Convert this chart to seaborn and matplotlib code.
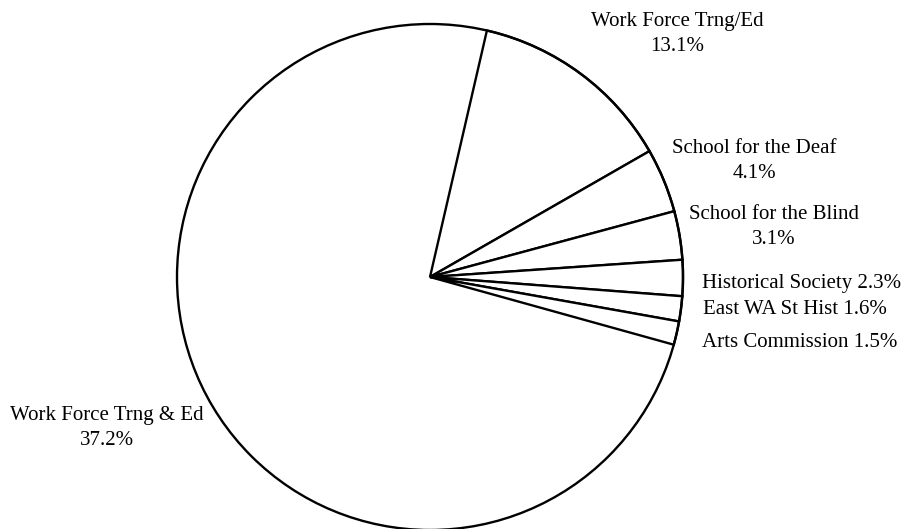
import matplotlib
matplotlib.use("Agg")
import matplotlib.pyplot as plt
from matplotlib.patches import Circle
import seaborn as sns

# Budget shares (percent of total), clockwise from the top of the pie
categories = [
    "Work Force Trng/Ed",
    "School for the Deaf",
    "School for the Blind",
    "Historical Society",
    "East WA St Hist",
    "Arts Commission",
    "Work Force Trng & Ed",
]
shares = [13.1, 4.1, 3.1, 2.3, 1.6, 1.5, 37.2]

# Label layout: anchor (in pie-radius units) and whether the percent goes on a new line
label_pos = [
    (0.976, 0.960),
    (1.281, 0.458),
    (1.360, 0.198),
    (1.470, -0.024),
    (1.443, -0.130),
    (1.462, -0.257),
    (-1.277, -0.597),
]
label_two_lines = [True, True, True, False, False, False, True]

sns.set_theme(style="white")
plt.rcParams["font.family"] = ["Liberation Serif", "DejaVu Serif"]

fig = plt.figure(figsize=(9.19, 5.29), dpi=100)
ax = fig.add_axes([0, 0, 1, 1])

lw = 1.7
wedges, _ = ax.pie(
    [s / 100 for s in shares],
    startangle=77,
    counterclock=False,
    normalize=False,
    radius=1.0,
    center=(0, 0),
    wedgeprops=dict(facecolor="white", edgecolor="black", linewidth=lw),
)
# The large share blends into the open part of the circle; the outline is drawn once
wedges[-1].set_edgecolor("none")
wedges[-1].set_zorder(0.5)
for w in wedges[:-1]:
    w.set_zorder(2)
ax.add_patch(Circle((0, 0), 1.0, fill=False, edgecolor="black", linewidth=lw, zorder=3))

for name, share, (x, y), two in zip(categories, shares, label_pos, label_two_lines):
    sep = "\n" if two else " "
    ax.text(x, y, f"{name}{sep}{share:.1f}%", ha="center", va="center",
            multialignment="center", fontsize=15, color="black", linespacing=1.45)

ax.set_xlim(-430 / 253, 489 / 253)
ax.set_ylim(-252 / 253, 277 / 253)
ax.set_aspect("auto")
ax.axis("off")

fig.savefig("out.png", dpi=100, facecolor="white")
